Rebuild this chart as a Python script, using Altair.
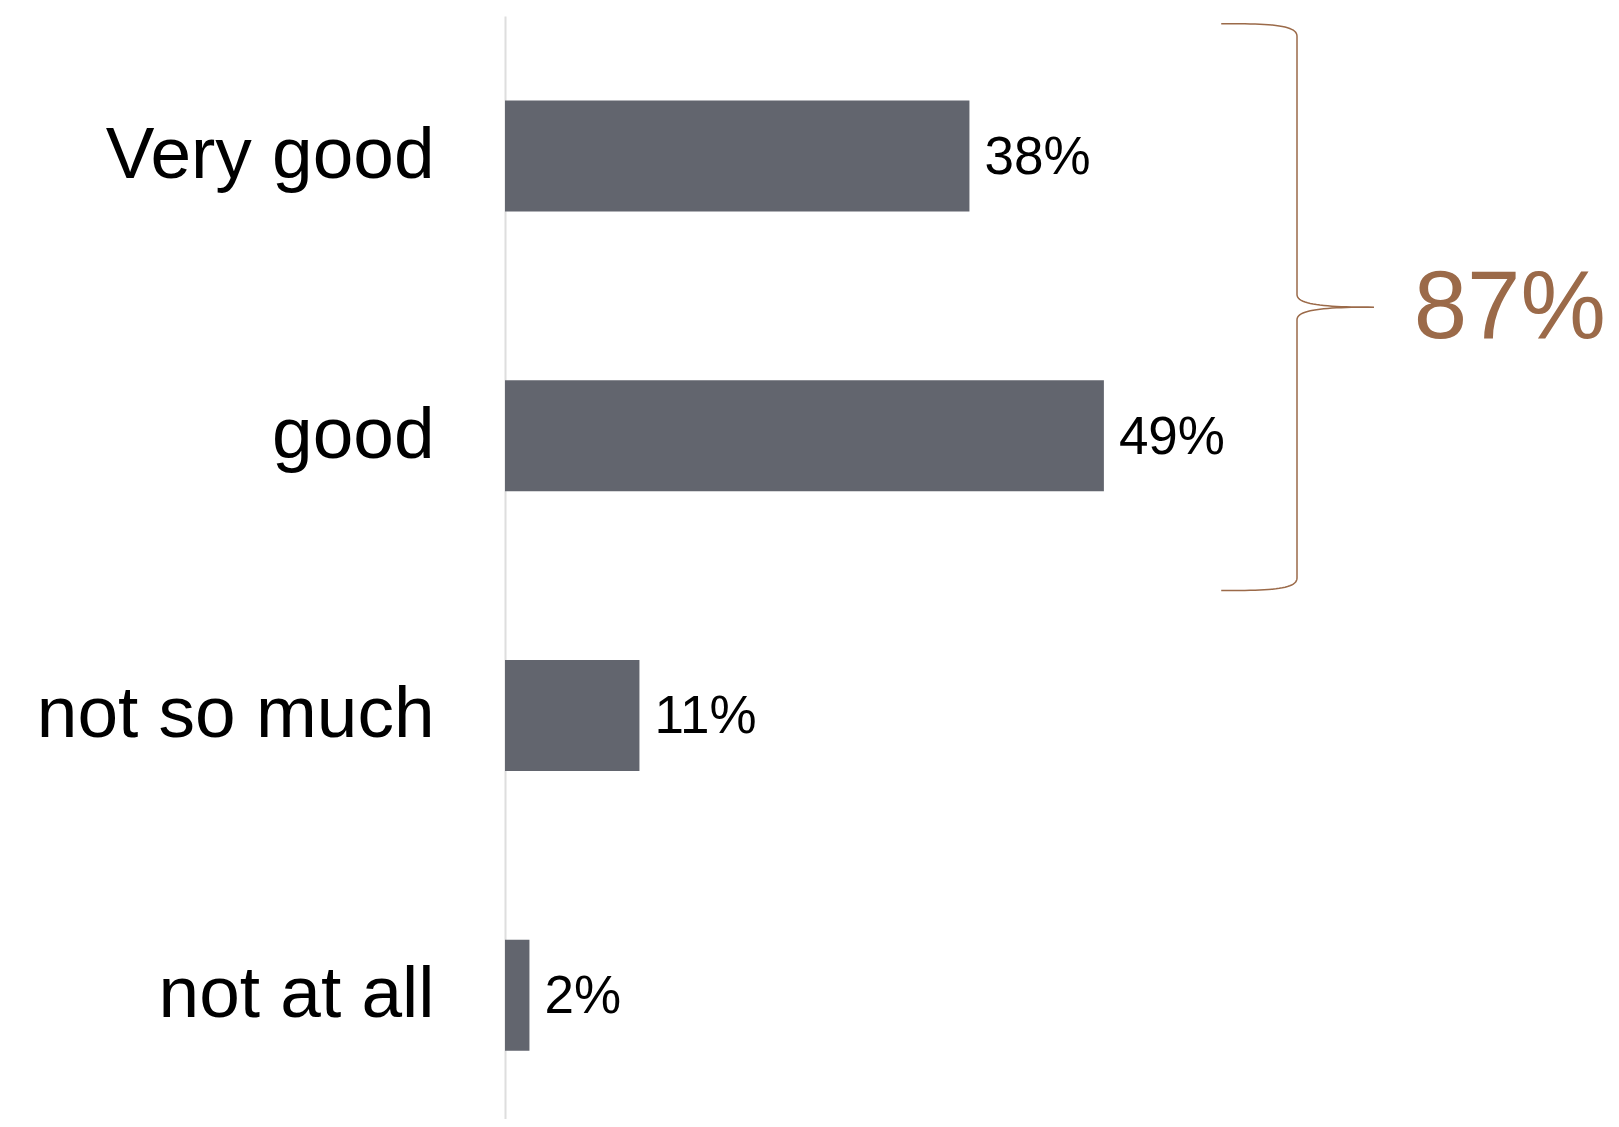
import altair as alt
import pandas as pd
import numpy as np

# ---- data ----
categories = ["Very good", "good", "not so much", "not at all"]
values = [38, 49, 11, 2]
value_labels = ["38%", "49%", "11%", "2%"]
bracket_members = ["Very good", "good"]
bracket_total = sum(v for c, v in zip(categories, values) if c in bracket_members)  # 87

# ---- style ----
BAR_COLOR = "#62656e"
ACCENT = "#9b6a49"
AXIS_GRAY = "#dedede"
FONT = "Liberation Sans"

W, H = 1100, 1103
X_MAX = 90

# band scale parameters
N = len(categories)
P_IN, P_OUT, ALIGN = 0.6033, 0.2727, 0.553
step = H / (N - P_IN + 2 * P_OUT)
start = (H - step * (N - P_IN)) * ALIGN
bw = step * (1 - P_IN)
center0 = start + bw / 2
# quantitative "row" scale aligned with band centres (row i centre -> value i)
r_min = -center0 / step
r_max = (H - center0) / step

df = pd.DataFrame({"category": categories, "value": values, "label": value_labels})

x_scale = alt.Scale(domain=[0, X_MAX], nice=False, zero=True)
y_band = alt.Scale(domain=categories, paddingInner=P_IN, paddingOuter=P_OUT, align=ALIGN)

y_enc = alt.Y(
    "category:N",
    sort=categories,
    scale=y_band,
    axis=alt.Axis(
        title=None, ticks=False, grid=False,
        labelFont=FONT, labelFontSize=73, labelColor="#000000",
        labelPadding=71, labelLimit=800,
        domainColor=AXIS_GRAY, domainWidth=2,
    ),
)

bars = alt.Chart(df).mark_bar(color=BAR_COLOR).encode(
    x=alt.X("value:Q", scale=x_scale, axis=None),
    y=y_enc,
)
texts = alt.Chart(df).mark_text(
    align="left", baseline="middle", dx=15, dy=2, font=FONT, fontSize=53, color="#000000"
).encode(
    x=alt.X("value:Q", scale=x_scale, axis=None),
    y=y_enc,
    text="label:N",
)
main = alt.layer(bars, texts)

# ---- brace annotation (rows 0..1) ----
top, bot = -0.4725, 1.5536
mid = (top + bot) / 2
c = 0.045
xe, xv, xt = 58.6, 64.8, 71.1
w1, w2 = xv - xe, xt - xv


def cubic(p0, p1, p2, p3, n=24):
    t = np.linspace(0, 1, n)[:, None]
    p0, p1, p2, p3 = map(np.array, (p0, p1, p2, p3))
    return ((1 - t) ** 3) * p0 + 3 * ((1 - t) ** 2) * t * p1 + 3 * (1 - t) * t ** 2 * p2 + t ** 3 * p3


segs = [
    cubic((xe, top), (xe + 0.65 * w1, top), (xv, top + 0.1 * c), (xv, top + c)),
    cubic((xv, mid - c), (xv, mid - 0.15 * c), (xv + 0.4 * w2, mid), (xt, mid)),
    cubic((xt, mid), (xv + 0.4 * w2, mid), (xv, mid + 0.15 * c), (xv, mid + c)),
    cubic((xv, bot - c), (xv, bot - 0.1 * c), (xe + 0.65 * w1, bot), (xe, bot)),
]
pts = np.vstack(segs)
brace_df = pd.DataFrame({"x": pts[:, 0], "r": pts[:, 1], "i": np.arange(len(pts))})

y_row = alt.Y("r:Q", scale=alt.Scale(domain=[r_min, r_max], reverse=True, nice=False, zero=False), axis=None)

brace = alt.Chart(brace_df).mark_line(color=ACCENT, strokeWidth=1.5).encode(
    x=alt.X("x:Q", scale=x_scale, axis=None),
    y=y_row,
    order=alt.Order("i:Q"),
)
total_df = pd.DataFrame({"x": [74.35], "r": [mid], "label": [f"{bracket_total}%"]})
total_text = alt.Chart(total_df).mark_text(
    align="left", baseline="middle", dy=2, font=FONT, fontSize=96, color=ACCENT
).encode(
    x=alt.X("x:Q", scale=x_scale, axis=None),
    y=y_row,
    text="label:N",
)
annot = alt.layer(brace, total_text)

chart = (
    alt.layer(main, annot)
    .resolve_scale(y="independent")
    .properties(
        width=W,
        height=H,
        autosize=alt.AutoSizeParams(type="none"),
        padding={"left": 497, "top": 8, "right": 0, "bottom": 0},
        background="#ffffff",
    )
    .configure_view(stroke=None)
)

chart.save("out.html", embed_options={"renderer": "svg", "actions": False})
